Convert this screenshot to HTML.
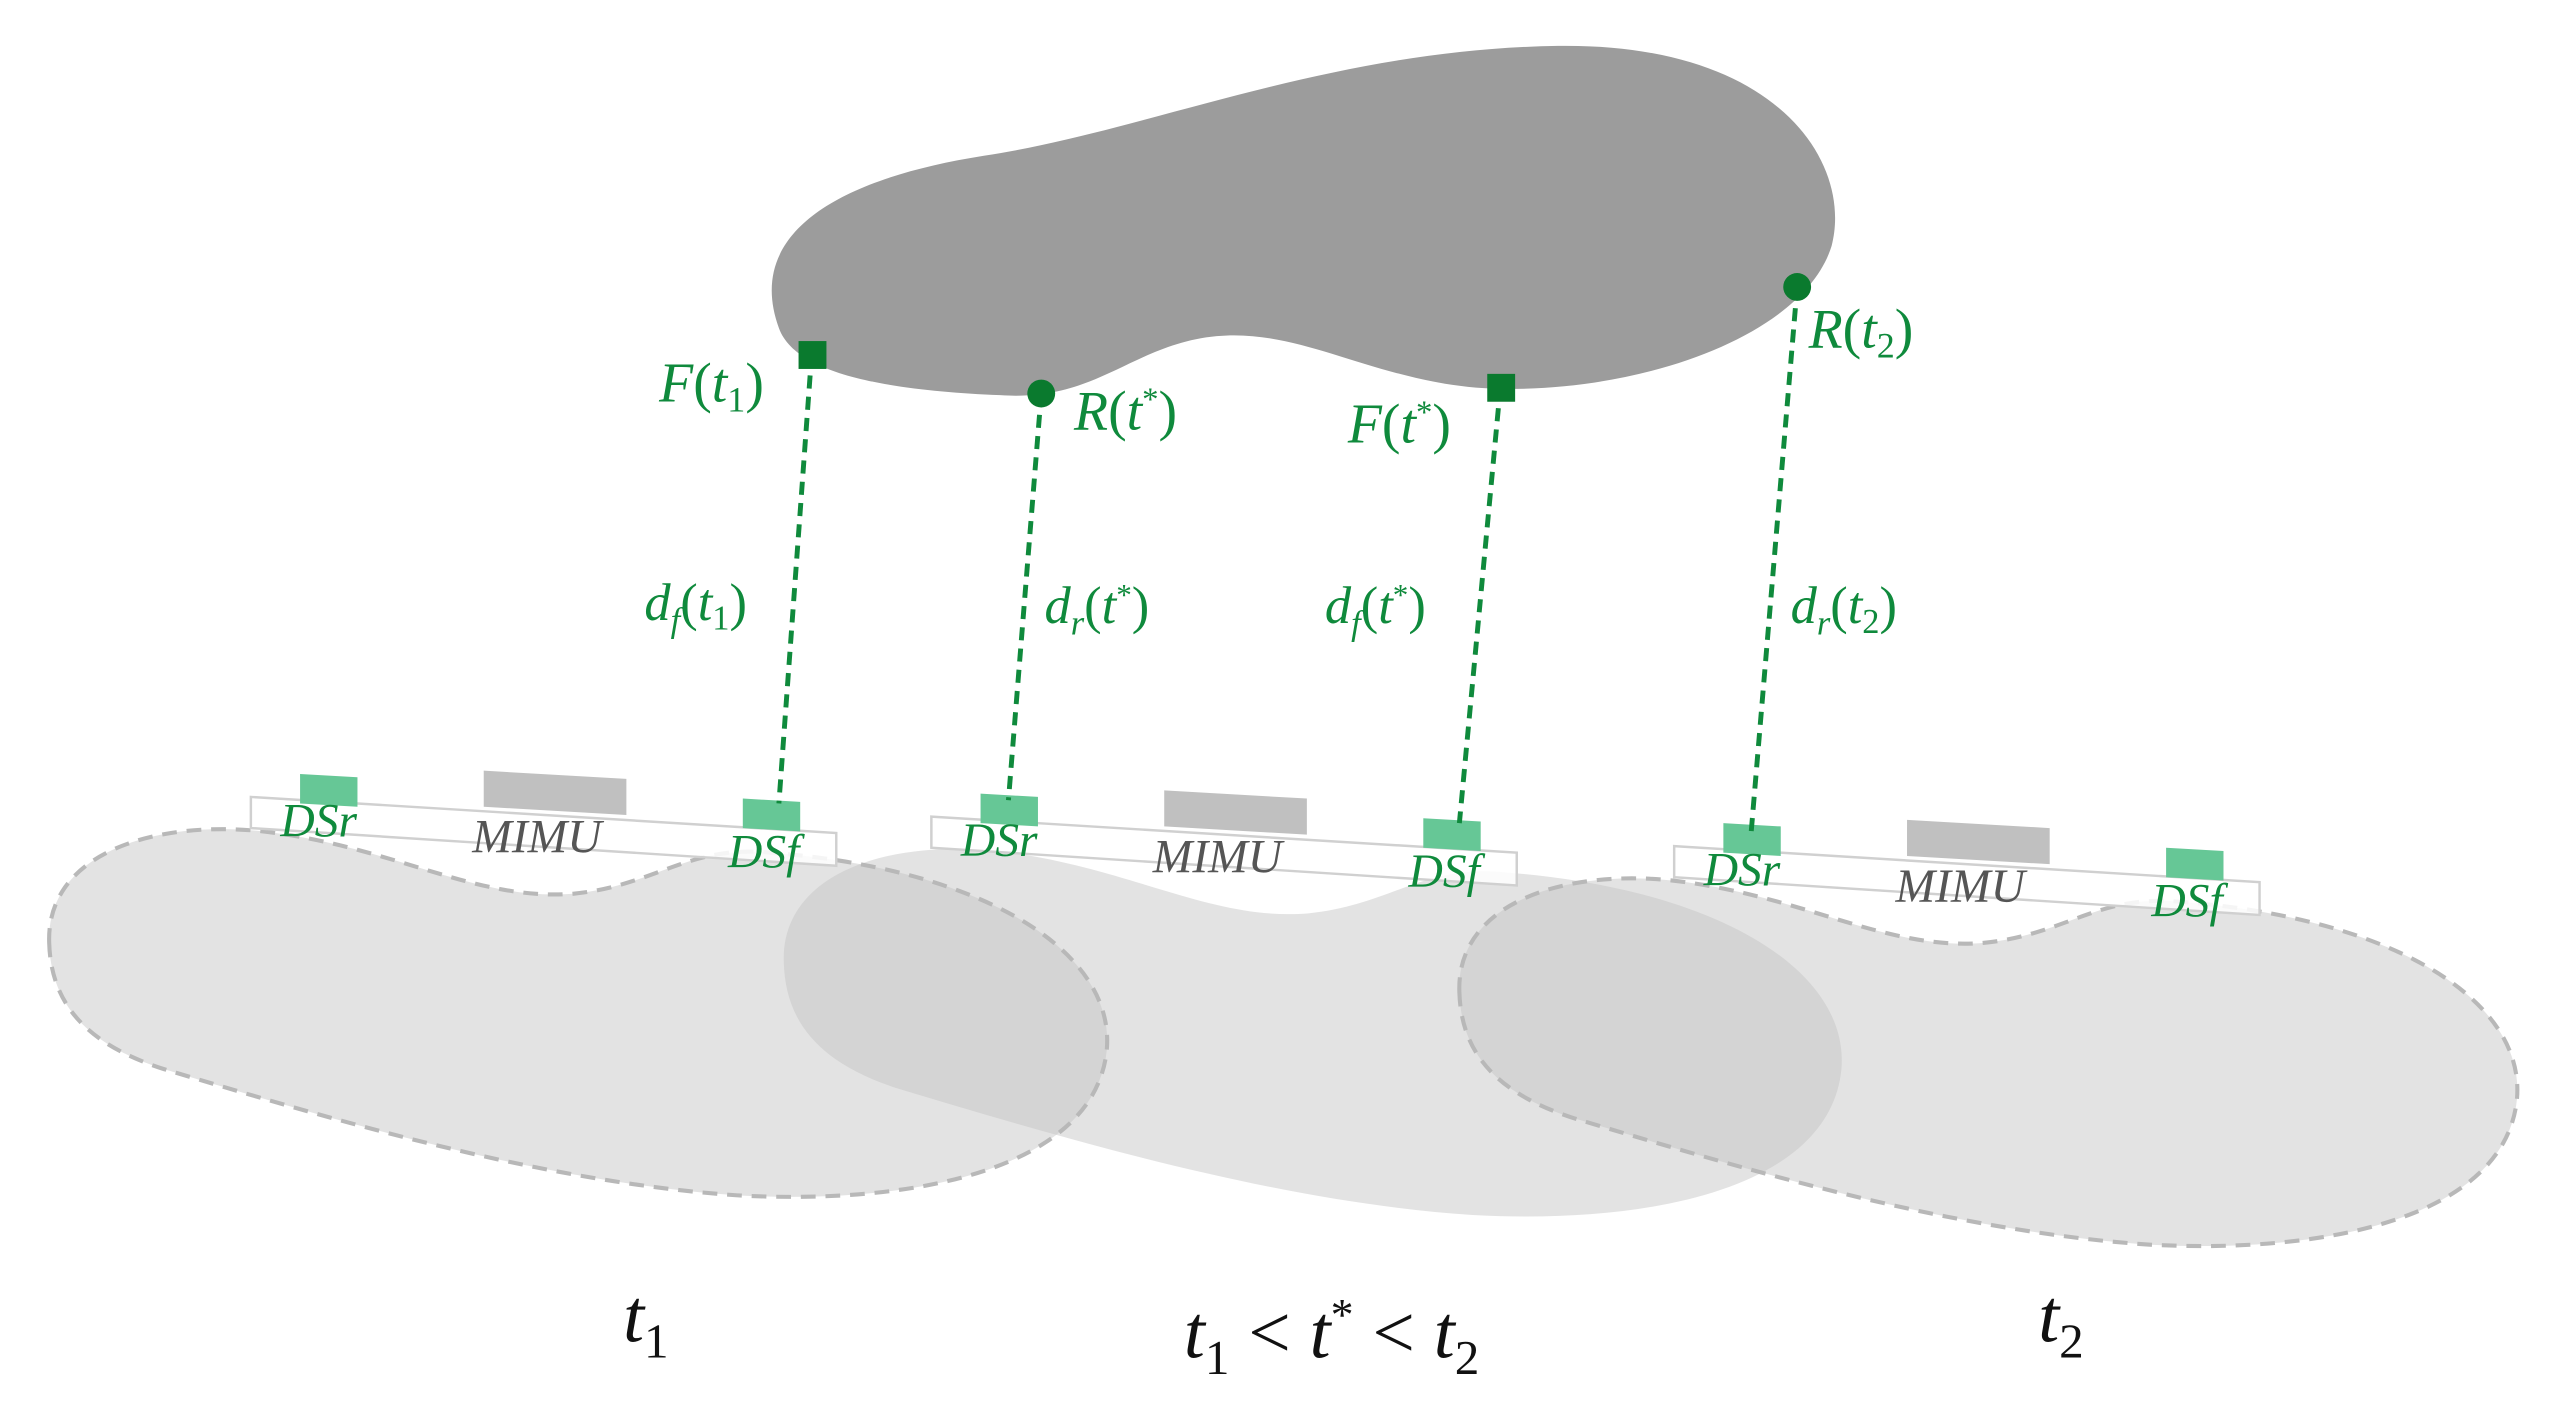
<!DOCTYPE html>
<html><head><meta charset="utf-8"><style>
html,body{margin:0;padding:0;background:#fff;}
svg{display:block;}
.g{fill:#0f8a3c;font-family:"Liberation Serif",serif;font-style:italic;}
.s{font-family:"Liberation Serif",serif;font-style:italic;font-size:29px;}
.u{font-style:normal;}
</style></head><body>
<svg width="2558" height="1401" viewBox="0 0 1560 854.4" preserveAspectRatio="none" xmlns="http://www.w3.org/2000/svg">
<defs>
<path id="b" d="M 30,575 C 28,520 95,500 160,507 C 240,516 290,550 350,545 C 400,540 420,515 470,520 C 600,530 680,580 675,640 C 668,712 560,735 450,729 C 330,721 200,682 100,652 C 50,636 31,610 30,575 Z"/>
</defs>
<path d="M 475,200 C 455,145 505,110 600,95 C 700,80 810,30 950,28 C 1085,26 1130,100 1117,150 C 1100,205 1000,240 910,237 C 840,234 795,200 742,205 C 690,210 670,245 610,241 C 540,238 485,228 475,200 Z" fill="#9c9c9c"/>
<g fill="#c3c3c3" fill-opacity="0.46">
<use href="#b"/>
<use href="#b" transform="translate(448,12)"/>
<use href="#b" transform="translate(860,30)"/>
</g>
<g fill="none" stroke="#b8b8b8" stroke-width="2.5" stroke-dasharray="9,6">
<use href="#b"/>
<use href="#b" transform="translate(860,30)"/>
</g>
<g id="bar">
<polygon points="153,486 510,508 510,528 153,505" fill="#fff" fill-opacity="0.85" stroke="#d0d0d0" stroke-width="1.5"/>
<polygon points="183,472 218,474 218,492 183,490" fill="#66c796"/>
<polygon points="295,470 382,475 382,497 295,492" fill="#c0c0c0"/>
<polygon points="453,487 488,489 488,507 453,505" fill="#66c796"/>
<text x="171" y="510" class="s" fill="#0f8a3c">DSr</text>
<text x="288" y="520" class="s" fill="#555">MIMU</text>
<text x="444" y="529" class="s" fill="#0f8a3c">DSf</text>
</g>
<use href="#bar" transform="translate(415,12)"/>
<use href="#bar" transform="translate(868,30)"/>
<g stroke="#0f8a3c" stroke-width="3" stroke-dasharray="8,5" fill="none">
<line x1="495" y1="216" x2="475" y2="490"/>
<line x1="635" y1="240" x2="615" y2="488"/>
<line x1="915" y1="236" x2="890" y2="502"/>
<line x1="1096" y1="175" x2="1068" y2="507"/>
</g>
<rect x="487" y="208" width="17" height="17" fill="#0a7a2e"/>
<rect x="907" y="228" width="17" height="17" fill="#0a7a2e"/>
<circle cx="635" cy="240" r="8.5" fill="#0a7a2e"/>
<circle cx="1096" cy="175" r="8.5" fill="#0a7a2e"/>
<g class="g" font-size="34">
<text x="402" y="245">F<tspan class="u">(</tspan>t<tspan font-size="22" dy="6" class="u">1</tspan><tspan dy="-6" class="u">)</tspan></text>
<text x="655" y="262">R<tspan class="u">(</tspan>t<tspan font-size="20" dy="-12" class="u">*</tspan><tspan dy="12" class="u">)</tspan></text>
<text x="822" y="270">F<tspan class="u">(</tspan>t<tspan font-size="20" dy="-12" class="u">*</tspan><tspan dy="12" class="u">)</tspan></text>
<text x="1103" y="212">R<tspan class="u">(</tspan>t<tspan font-size="22" dy="6" class="u">2</tspan><tspan dy="-6" class="u">)</tspan></text>
<text x="393" y="378" font-size="32">d<tspan font-size="21" dy="7">f</tspan><tspan dy="-7" class="u">(</tspan>t<tspan font-size="21" dy="6" class="u">1</tspan><tspan dy="-6" class="u">)</tspan></text>
<text x="637" y="380" font-size="32">d<tspan font-size="21" dy="7">r</tspan><tspan dy="-7" class="u">(</tspan>t<tspan font-size="19" dy="-11" class="u">*</tspan><tspan dy="11" class="u">)</tspan></text>
<text x="808" y="380" font-size="32">d<tspan font-size="21" dy="7">f</tspan><tspan dy="-7" class="u">(</tspan>t<tspan font-size="19" dy="-11" class="u">*</tspan><tspan dy="11" class="u">)</tspan></text>
<text x="1092" y="380" font-size="32">d<tspan font-size="21" dy="7">r</tspan><tspan dy="-7" class="u">(</tspan>t<tspan font-size="21" dy="6" class="u">2</tspan><tspan dy="-6" class="u">)</tspan></text>
</g>
<g font-family="Liberation Serif,serif" font-style="italic" font-size="46" fill="#111">
<text x="380" y="818">t<tspan font-size="30" dy="10" class="u">1</tspan></text>
<text x="722" y="828">t<tspan font-size="30" dy="10" class="u">1</tspan><tspan class="u" dy="-10"> &lt; </tspan>t<tspan font-size="28" dy="-17" class="u">*</tspan><tspan class="u" dy="17"> &lt; </tspan>t<tspan font-size="30" dy="10" class="u">2</tspan></text>
<text x="1243" y="818">t<tspan font-size="30" dy="10" class="u">2</tspan></text>
</g>
</svg>
</body></html>
